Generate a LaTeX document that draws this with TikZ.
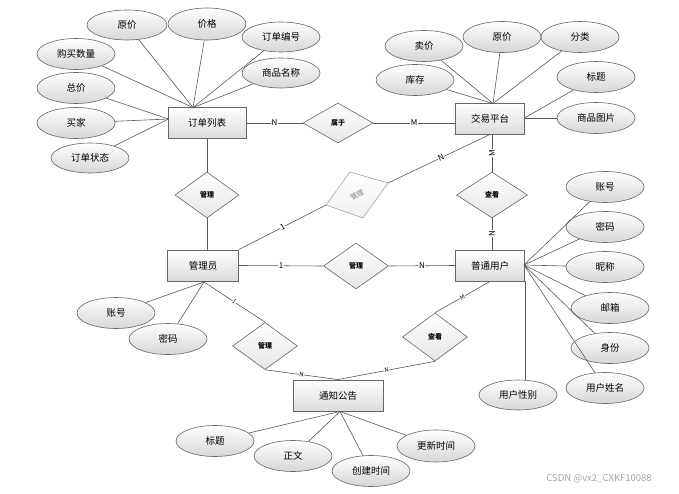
\documentclass[tikz,border=0pt]{standalone}
\usepackage{fontspec}
\setmainfont{Noto Sans CJK SC}
\usetikzlibrary{shapes.geometric}
\begin{document}
\begin{tikzpicture}[x=1pt,y=-1pt,
  ent/.style={draw=black!60, line width=0.9pt, top color=white, bottom color=black!14, minimum width=#1, minimum height=31pt, inner sep=0pt, font=\fontsize{9.5}{10}\selectfont},
  ent/.default=70pt,
  attr/.style={ellipse, draw=black!60, line width=0.6pt, top color=white, bottom color=black!16, minimum width=78pt, minimum height=31pt, inner sep=0pt, font=\fontsize{9.5}{10}\selectfont},
  rel/.style={diamond, draw=black!60, line width=0.6pt, top color=white, bottom color=black!10, minimum width=#1, minimum height=46pt, inner sep=0pt, font=\fontsize{7}{7}\selectfont\bfseries},
  rel/.default=65pt,
  ln/.style={draw=black!65, line width=0.6pt},
  card/.style={fill=white, inner sep=0.6pt, font=\fontsize{8}{8}\selectfont},
  scard/.style={fill=white, inner sep=0.4pt, font=\fontsize{6}{6}\selectfont}
]
\useasboundingbox (0,0) rectangle (679,494);
\fill[white] (0,0) rectangle (679,494);

% entities
\node[ent=78pt] (olist) at (207,123) {订单列表};
\node[ent=69pt] (plat) at (490,118.5) {交易平台};
\node[ent=71pt] (admin) at (203,265.5) {管理员};
\node[ent=69pt] (user) at (490,265.5) {普通用户};
\node[ent=90pt] (notice) at (338,395.5) {通知公告};

% relationships
\node[rel=70pt, minimum height=40pt] (belong) at (338,123) {属于};
\node[rel=64pt] (mgr1) at (207,195) {管理};
\node[rel=65pt] (mgr2) at (356,266) {管理};
\node[rel=71pt] (view1) at (492,195) {查看};
\node[rel=65pt, minimum height=47pt] (mgr3) at (265,346) {管理};
\node[rel=65pt, minimum height=48pt] (view2) at (435,337) {查看};

% grey skewed diamond
\coordinate (gL) at (326,205);
\coordinate (gT) at (350,172);
\coordinate (gR) at (388,183);
\coordinate (gB) at (363,218);
\draw[draw=black!35, line width=0.6pt, top color=white, bottom color=black!6] (gL) -- (gT) -- (gR) -- (gB) -- cycle;
\node[rotate=30, text=black!50, font=\fontsize{7}{7}\selectfont] (mgrg) at (357,195) {管理};

% order list attributes
\node[attr, minimum width=80pt, minimum height=30pt] (o1) at (127,25) {原价};
\node[attr, minimum height=32pt] (o2) at (207,24) {价格};
\node[attr, minimum height=30pt] (o3) at (281,37) {订单编号};
\node[attr, minimum height=30pt] (o4) at (281,73) {商品名称};
\node[attr] (o5) at (76,54) {购买数量};
\node[attr] (o6) at (76,88) {总价};
\node[attr] (o7) at (76,123) {买家};
\node[attr, minimum height=30pt] (o8) at (90,158) {订单状态};
\coordinate (oT) at (193,107.5);
\coordinate (oL) at (168.5,119);
\foreach \a in {o1,o2,o3,o4,o5} \draw[ln] (\a) -- (oT);
\foreach \a in {o6,o7,o8} \draw[ln] (\a) -- (oL);

% platform attributes
\node[attr] (p1) at (424,46) {卖价};
\node[attr] (p2) at (502,37) {原价};
\node[attr] (p3) at (580,37) {分类};
\node[attr] (p4) at (415,80) {库存};
\node[attr] (p5) at (596,77) {标题};
\node[attr] (p6) at (596,118) {商品图片};
\coordinate (pT) at (493,103.5);
\coordinate (pR) at (524.5,118);
\foreach \a in {p1,p2,p3,p4} \draw[ln] (\a) -- (pT);
\draw[ln] (p5) -- (pR);
\draw[ln] (p6) -- (pR);

% user attributes
\node[attr] (u1) at (605,187) {账号};
\node[attr] (u2) at (605,227) {密码};
\node[attr] (u3) at (605,267) {昵称};
\node[attr] (u4) at (610,308) {邮箱};
\node[attr] (u5) at (610,348) {身份};
\node[attr] (u6) at (605,388) {用户姓名};
\node[attr, minimum height=30pt] (u7) at (518,395) {用户性别};
\coordinate (uR) at (524,265);
\foreach \a in {u1,u2,u3,u4,u5,u6} \draw[ln] (\a) -- (uR);
\coordinate (uB) at (525,281);
\draw[ln] (uB) -- (uB |- u7.north);

% admin attributes
\node[attr] (m1) at (116,313) {账号};
\node[attr] (m2) at (168,339) {密码};
\coordinate (mB) at (204,282);
\draw[ln] (m1) -- (mB);
\draw[ln] (m2) -- (mB);

% notice attributes
\node[attr] (n1) at (215,441) {标题};
\node[attr] (n2) at (293,456) {正文};
\node[attr] (n3) at (371,471) {创建时间};
\node[attr, minimum height=32pt] (n4) at (436,446) {更新时间};
\coordinate (nB) at (340,411.5);
\foreach \a in {n1,n2,n3,n4} \draw[ln] (\a) -- (nB);

% relationship connectors
\draw[ln] (olist.east) -- node[card] {N} (belong.west);
\draw[ln] (belong.east) -- node[card] {M} (belong.east -| plat.west);
\draw[ln] (olist.south) -- (mgr1.north);
\draw[ln] (mgr1.south) -- (mgr1.south |- admin.north);
\draw[ln] (admin.north east) -- node[card, rotate=27, pos=0.5] {1} (gL);
\draw[ln] (gR) -- node[card, rotate=25, pos=0.52] {N} (plat.south);
\draw[ln] (view1.north |- plat.south) -- node[card, rotate=90] {M} (view1.north);
\draw[ln] (view1.south) -- node[card, rotate=90] {N} (view1.south |- user.north);
\draw[ln] (admin.east) -- node[card] {1} (mgr2.west);
\draw[ln] (mgr2.east) -- node[card] {N} (user.west);
\draw[ln] (mB) -- node[scard, rotate=-33] {1} (mgr3.north);
\draw[ln] (mgr3.south) -- node[scard, rotate=-7, pos=0.5] {N} (notice.north);
\draw[ln] (view2.south) -- node[scard, rotate=10, pos=0.5] {N} (notice.north);
\draw[ln] (user.south) -- node[scard, rotate=30, pos=0.5] {M} (view2.north);

% watermark
\node[text=black!35, font=\fontsize{9.5}{10}\selectfont] (wm) at (599,479) {CSDN @vx2\_CXKF10088};
\end{tikzpicture}
\end{document}
